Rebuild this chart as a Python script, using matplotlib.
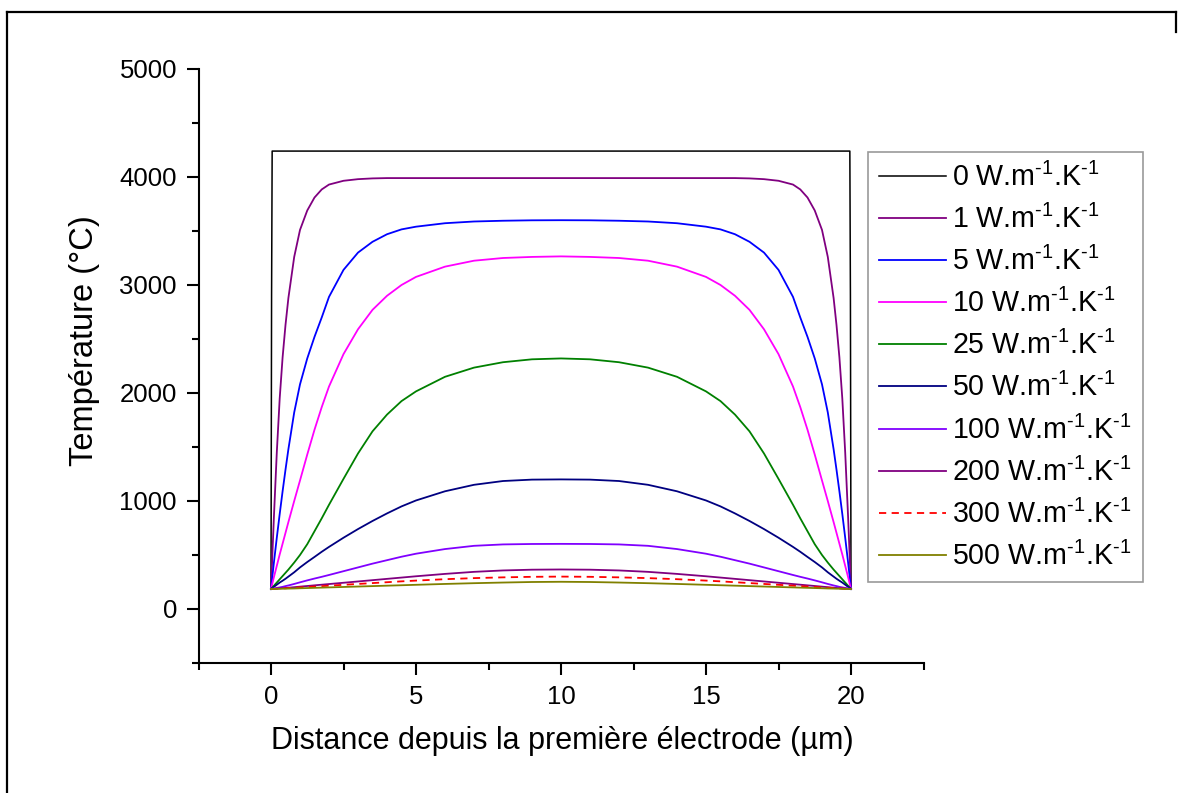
import matplotlib
matplotlib.use("Agg")
import matplotlib.pyplot as plt
from matplotlib.lines import Line2D
from matplotlib.ticker import MultipleLocator

plt.rcParams['font.family'] = ['Liberation Sans', 'DejaVu Sans']
plt.rcParams['mathtext.fontset'] = 'custom'
plt.rcParams['mathtext.rm'] = 'Liberation Sans'
plt.rcParams['mathtext.it'] = 'Liberation Sans:italic'
plt.rcParams['mathtext.bf'] = 'Liberation Sans:bold'

# ---- data ----
distance = [0, 0.05, 0.1, 0.2, 0.3, 0.4, 0.5, 0.6, 0.8, 1, 1.25, 1.5, 1.75, 2, 2.5, 3, 3.5, 4, 4.5, 5,
            6, 7, 8, 9, 10, 11, 12, 13, 14,
            15, 15.5, 16, 16.5, 17, 17.5, 18, 18.25, 18.5, 18.75, 19, 19.2, 19.4, 19.5, 19.6, 19.7, 19.8,
            19.9, 19.95, 20]

distance_k0 = [0, 0.02, 0.04, 19.96, 19.98, 20]
temp_k0 = [185, 2900, 4240, 4240, 2900, 185]

temp_k1 = [185, 520, 850, 1450, 1950, 2330, 2630, 2880, 3260, 3510, 3690, 3810, 3885, 3930, 3965, 3980, 3987,
           3990, 3990, 3990, 3990, 3990, 3990, 3990, 3990,
           3990, 3990, 3990, 3990, 3990, 3990, 3990,
           3987, 3980, 3965, 3930, 3885, 3810, 3690, 3510, 3260, 2880, 2630, 2330, 1950, 1450, 850, 520, 185]
temp_k5 = [185, 310, 430, 660, 880, 1090, 1290, 1480, 1820, 2080, 2320, 2520, 2700, 2890, 3140, 3300, 3400,
           3470, 3515, 3540, 3572, 3588, 3595, 3599, 3600,
           3599, 3595, 3588, 3572, 3540, 3515, 3470, 3400, 3300, 3140, 2890, 2700, 2520, 2320, 2080, 1820,
           1480, 1290, 1090, 880, 660, 430, 310, 185]
temp_k10 = [185, 240, 295, 400, 505, 605, 705, 805, 1000, 1190, 1430, 1660, 1870, 2060, 2360, 2590, 2770,
            2900, 3000, 3075, 3170, 3225, 3250, 3260, 3265,
            3260, 3250, 3225, 3170, 3075, 3000, 2900, 2770, 2590, 2360, 2060, 1870, 1660, 1430, 1190, 1000,
            805, 705, 605, 505, 400, 295, 240, 185]
temp_k25 = [185, 200, 215, 245, 275, 305, 335, 365, 430, 500, 600, 720, 840, 965, 1205, 1440, 1645,
            1800, 1925, 2015, 2150, 2235, 2285, 2312, 2320,
            2312, 2285, 2235, 2150, 2015, 1925, 1800, 1645, 1440, 1205, 965, 840, 720, 600, 500, 430,
            365, 335, 305, 275, 245, 215, 200, 185]
temp_k50 = [185, 195, 205, 225, 245, 262, 280, 300, 340, 385, 435, 482, 530, 575, 660, 740, 815,
            885, 950, 1005, 1090, 1150, 1185, 1198, 1200,
            1198, 1185, 1150, 1090, 1005, 950, 885, 815, 740, 660, 575, 530, 482, 435, 385, 340,
            300, 280, 262, 245, 225, 205, 195, 185]
temp_k100 = [185, 188, 190, 195, 200, 205, 212, 218, 232, 247, 265, 282, 298, 315, 350, 385, 420,
             452, 484, 512, 555, 585, 598, 602, 603,
             602, 598, 585, 555, 512, 484, 452, 420, 385, 350, 315, 298, 282, 265, 247, 232,
             218, 212, 205, 200, 195, 190, 188, 185]
temp_k200 = [185, 186, 187, 189, 191, 193, 195, 197, 202, 207, 213, 219, 225, 231, 243, 255, 267,
             279, 291, 303, 325, 344, 357, 364, 366,
             364, 357, 344, 325, 303, 291, 279, 267, 255, 243, 231, 225, 219, 213, 207, 202,
             197, 195, 193, 191, 189, 187, 186, 185]
temp_k300 = [185, 186, 186, 188, 189, 191, 192, 194, 197, 200, 204, 208, 212, 216, 224, 232, 240,
             248, 256, 263, 276, 286, 293, 298, 300,
             298, 293, 286, 276, 263, 256, 248, 240, 232, 224, 216, 212, 208, 204, 200, 197,
             194, 192, 191, 189, 188, 186, 186, 185]
temp_k500 = [185, 185, 186, 186, 187, 188, 188, 189, 190, 192, 194, 196, 198, 200, 204, 208, 212,
             216, 220, 224, 232, 239, 245, 250, 252,
             250, 245, 239, 232, 224, 220, 216, 212, 208, 204, 200, 198, 196, 194, 192, 190,
             189, 188, 188, 187, 186, 186, 185, 185]

conductivities = ['0', '1', '5', '10', '25', '50', '100', '200', '300', '500']
series = [temp_k1, temp_k5, temp_k10, temp_k25, temp_k50, temp_k100, temp_k200, temp_k300, temp_k500]
colors = ['#000000', '#800080', '#0000FF', '#FF00FF', '#008000', '#000080', '#8000FF', '#800080', '#FF0000', '#808000']
styles = ['-', '-', '-', '-', '-', '-', '-', '-', (0, (4, 3)), '-']

xticks = [0, 5, 10, 15, 20]
yticks = [0, 1000, 2000, 3000, 4000, 5000]

# ---- figure ----
W, H = 1184, 793
fig = plt.figure(figsize=(W / 100, H / 100), dpi=100)
ax = fig.add_axes([198.5 / W, 1 - 663 / H, 725 / W, 594 / H])

labels = [c + ' W.m$^{\u20101}$.K$^{\u20101}$' for c in conductivities]
ax.plot(distance_k0, temp_k0, color=colors[0], lw=1.1, ls=styles[0], label=labels[0])
for i, ys in enumerate(series, start=1):
    ax.plot(distance, ys, color=colors[i], lw=1.3, ls=styles[i], label=labels[i])

ax.set_xlim(-2.5, 22.5)
ax.set_ylim(-500, 5000)
ax.set_xticks(xticks)
ax.set_yticks(yticks)
ax.xaxis.set_minor_locator(MultipleLocator(2.5))
ax.yaxis.set_minor_locator(MultipleLocator(500))
for s in ['top', 'right']:
    ax.spines[s].set_visible(False)
for s in ['left', 'bottom']:
    ax.spines[s].set_linewidth(1.5)
ax.tick_params(which='major', direction='out', length=8.5, width=1.5, labelsize=18.5, pad=7)
ax.tick_params(which='minor', direction='out', length=5, width=1.5)

fig.text(562 / W, 1 - 741 / H, 'Distance depuis la première électrode (µm)', fontsize=22,
         ha='center', va='center')
fig.text(85 / W, 1 - 341 / H, 'Température (°C)', fontsize=23.5, rotation=90,
         ha='center', va='center')

leg = ax.legend(loc='upper left', bbox_to_anchor=(868 / W, 1 - 152 / H), bbox_transform=fig.transFigure,
                borderaxespad=0, fontsize=20.6, handlelength=2.35, handletextpad=0.22,
                labelspacing=0.45, fancybox=False, frameon=True, borderpad=0.38)
leg.get_frame().set_edgecolor('#808080')
leg.get_frame().set_linewidth(1.2)

# outer frame
fig.add_artist(Line2D([7 / W, 7 / W], [0, 1 - 12 / H], color='black', lw=1.6, transform=fig.transFigure))
fig.add_artist(Line2D([7 / W, 1176 / W], [1 - 12 / H, 1 - 12 / H], color='black', lw=1.6, transform=fig.transFigure))
fig.add_artist(Line2D([1176 / W, 1176 / W], [1 - 12 / H, 1 - 32 / H], color='black', lw=1.6, transform=fig.transFigure))

fig.savefig('out.png', dpi=100)
